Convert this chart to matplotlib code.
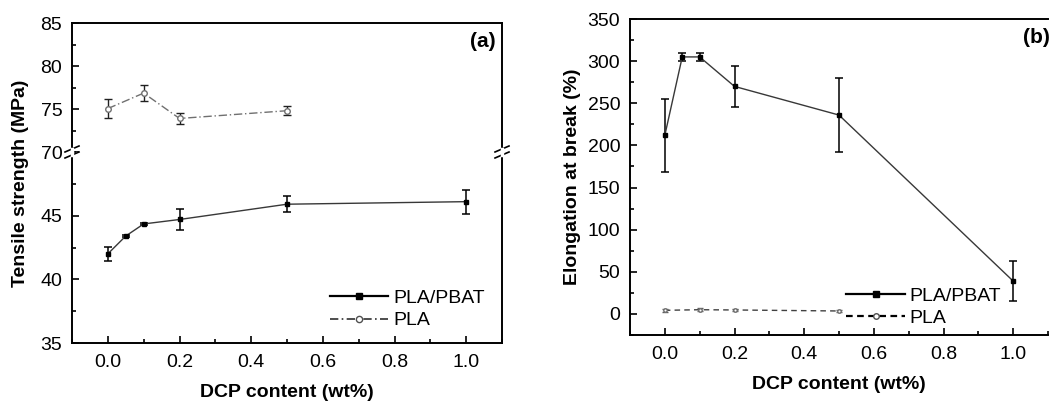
import numpy as np
import matplotlib
matplotlib.use('Agg')
import matplotlib.pyplot as plt
from matplotlib.ticker import MultipleLocator

plt.rcParams['font.family'] = ['Liberation Sans', 'DejaVu Sans']
plt.rcParams['font.size'] = 14

# tensile strength (a)
dcp_blend     = [0.0, 0.05, 0.1, 0.2, 0.5, 1.0]
ts_blend      = [42.0, 43.4, 44.35, 44.7, 45.9, 46.1]
ts_blend_err  = [0.55, 0.1, 0.1, 0.8, 0.65, 0.95]
dcp_pla       = [0.0, 0.1, 0.2, 0.5]
ts_pla        = [75.05, 76.85, 73.9, 74.8]
ts_pla_err    = [1.1, 0.95, 0.65, 0.55]

# elongation at break (b)
eb_blend      = [212, 305, 305, 270, 236, 39]
eb_blend_err  = [43.5, 4.5, 4.5, 24.5, 43.5, 23.5]
eb_pla        = [4.3, 5.0, 4.7, 3.5]
eb_pla_err    = [1.5, 1.5, 1.5, 1.5]

W, H = 1049, 401
fig = plt.figure(figsize=(W / 100, H / 100), dpi=100)

def rect(x0, y0, x1, y1):
    return [x0 / W, 1 - y1 / H, (x1 - x0) / W, (y1 - y0) / H]

def style(ax):
    ax.tick_params(which='both', direction='in', top=False, right=False, labelsize=14)
    ax.tick_params(axis='x', pad=8)
    ax.tick_params(axis='y', pad=7)
    ax.tick_params(which='major', length=5, width=1.2)
    ax.tick_params(which='minor', length=3, width=1.2)
    for s in ax.spines.values():
        s.set_linewidth(1.4)

blend_kw = dict(color='#383838', lw=1.0, marker='s', ms=3.5, mfc='black', mec='black',
                ecolor='black', elinewidth=1.1, capsize=3, capthick=1.1)

# ---------- panel (a) with broken y axis ----------
y_break = 152
ax_top = fig.add_axes(rect(72, 23, 502, y_break))
ax_bot = fig.add_axes(rect(72, y_break, 502, 343))

ax_top.errorbar(dcp_pla, ts_pla, yerr=ts_pla_err, color='#707070', lw=1.0, ls=(0, (6, 2, 1, 2)),
                marker='o', ms=4, mfc='white', mec='#707070',
                ecolor='#202020', elinewidth=1.0, capsize=3, capthick=1.0)
ax_bot.errorbar(dcp_blend, ts_blend, yerr=ts_blend_err, **blend_kw)

for ax in (ax_top, ax_bot):
    style(ax)
    ax.set_xlim(-0.1, 1.1)
    ax.xaxis.set_major_locator(MultipleLocator(0.2))
    ax.xaxis.set_minor_locator(MultipleLocator(0.1))
    ax.yaxis.set_major_locator(MultipleLocator(5))
    ax.yaxis.set_minor_locator(MultipleLocator(2.5))

ax_top.set_ylim(70, 85)
ax_bot.set_ylim(35, 50)
ax_top.spines['bottom'].set_visible(False)
ax_bot.spines['top'].set_visible(False)
ax_top.tick_params(which='both', bottom=False, labelbottom=False)
ax_bot.set_yticks([35, 40, 45])
ax_bot.set_xlabel('DCP content (wt%)', fontsize=14, fontweight='bold', labelpad=9)
fig.text(21 / W, 1 - 183 / H, 'Tensile strength (MPa)', rotation=90, fontsize=14,
         fontweight='bold', ha='center', va='center')
ax_top.text(0.985, 0.86, '(a)', transform=ax_top.transAxes, ha='right', va='center',
            fontsize=15, fontweight='bold')

# break marks on both spines
for xp in (72, 502):
    for dy in (-3, 3):
        fig.add_artist(plt.Line2D([(xp - 7) / W, (xp + 7) / W],
                                  [1 - (y_break + dy + 3) / H, 1 - (y_break + dy - 3) / H],
                                  color='black', lw=1.2))
    fig.add_artist(plt.Line2D([xp / W, xp / W], [1 - (y_break + 3) / H, 1 - (y_break - 3) / H],
                              color='white', lw=2.5))

h1, = ax_bot.plot([], [], color='black', lw=1.6, marker='s', ms=4.5, mfc='black', mec='black')
h2, = ax_bot.plot([], [], color='#303030', lw=1.2, ls=(0, (5, 2, 1, 2)), marker='o', ms=4.5,
                  mfc='white', mec='#505050')
ax_bot.legend([h1, h2], ['PLA/PBAT', 'PLA'], loc='lower right', bbox_to_anchor=(1.0, -0.02),
              frameon=False, fontsize=14, handlelength=3.0, handletextpad=0.25, labelspacing=0.25)

# ---------- panel (b) ----------
ax_b = fig.add_axes(rect(630, 19, 1048, 335))
style(ax_b)
ax_b.errorbar(dcp_blend, eb_blend, yerr=eb_blend_err, **blend_kw)
ax_b.errorbar(dcp_pla, eb_pla, yerr=eb_pla_err, color='#404040', lw=1.0, ls=(0, (4, 3)),
              marker='o', ms=2.5, mfc='white', mec='#707070',
              ecolor='#606060', elinewidth=1.0, capsize=2.5, capthick=1.0)
ax_b.set_xlim(-0.1, 1.1)
ax_b.set_ylim(-25, 350)
ax_b.xaxis.set_major_locator(MultipleLocator(0.2))
ax_b.xaxis.set_minor_locator(MultipleLocator(0.1))
ax_b.yaxis.set_major_locator(MultipleLocator(50))
ax_b.yaxis.set_minor_locator(MultipleLocator(25))
ax_b.spines['right'].set_visible(False)
ax_b.set_xlabel('DCP content (wt%)', fontsize=14, fontweight='bold', labelpad=9)
ax_b.set_ylabel('Elongation at break (%)', fontsize=14, fontweight='bold', labelpad=5)
ax_b.text(1.005, 0.943, '(b)', transform=ax_b.transAxes, ha='right', va='center',
          fontsize=15, fontweight='bold')

g1, = ax_b.plot([], [], color='black', lw=1.6, marker='s', ms=4.5, mfc='black', mec='black')
g2, = ax_b.plot([], [], color='black', lw=1.6, ls=(0, (3, 2)), marker='o', ms=4,
                mfc='white', mec='#505050')
ax_b.legend([g1, g2], ['PLA/PBAT', 'PLA'], loc='lower right', bbox_to_anchor=(0.93, -0.03),
            frameon=False, fontsize=14, handlelength=3.0, handletextpad=0.25, labelspacing=0.25)

fig.savefig('out.png', dpi=100)
